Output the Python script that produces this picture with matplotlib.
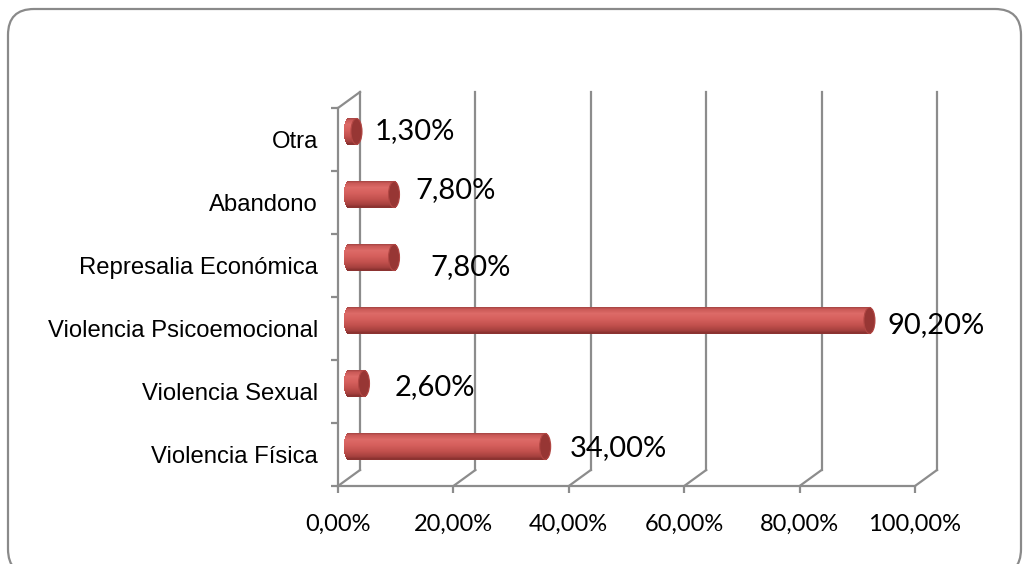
import matplotlib
matplotlib.use("Agg")
import matplotlib.pyplot as plt
import numpy as np
from matplotlib.patches import Ellipse, FancyBboxPatch
from matplotlib.colors import to_rgb

# ---------------- data ----------------
categories = ["Violencia Física", "Violencia Sexual", "Violencia Psicoemocional",
              "Represalia Económica", "Abandono", "Otra"]
values = [34.0, 2.6, 90.2, 7.8, 7.8, 1.3]
value_labels = ["34,00%", "2,60%", "90,20%", "7,80%", "7,80%", "1,30%"]
xticks = [0, 20, 40, 60, 80, 100]
xtick_labels = ["0,00%", "20,00%", "40,00%", "60,00%", "80,00%", "100,00%"]

# label offsets (pixels) from bar end: (dx right, dy up)
label_offsets = [(25, -1.5), (31, -3.5), (18.5, -4.5), (36, -9.5), (21, 4.5), (18.5, 0)]

W, H, DPI = 1023, 564, 100
fig = plt.figure(figsize=(W / DPI, H / DPI), dpi=DPI)

# background axes in pixel coordinates for the rounded frame
bg = fig.add_axes([0, 0, 1, 1], zorder=-1)
bg.set_xlim(0, W)
bg.set_ylim(H, 0)
bg.axis("off")
bg.add_patch(FancyBboxPatch((8, 9), 1021 - 8, 575 - 9,
                            boxstyle="round,pad=0,rounding_size=26",
                            facecolor="white", edgecolor="#8a8a8a", linewidth=1.6))

# front plane of plot area
x0, x1 = 338, 915
ytop, ybot = 108, 486
ax = fig.add_axes([x0 / W, 1 - ybot / H, (x1 - x0) / W, (ybot - ytop) / H])
ax.set_xlim(0, 100)
ax.set_ylim(-0.5, 5.5)
ax.patch.set_visible(False)

pxx = (x1 - x0) / 100.0          # px per x unit
pxy = (ybot - ytop) / 6.0        # px per category
DXp, DYp = 22, 16                # depth offset in px
DX, DY = DXp / pxx, DYp / pxy

gcol = "#8c8c8c"
glw = 1.6

# back wall gridlines + floor diagonals
for v in xticks:
    ax.plot([v + DX, v + DX], [-0.5 + DY, 5.5 + DY], color=gcol, lw=glw, clip_on=False, zorder=1)
    ax.plot([v, v + DX], [-0.5, -0.5 + DY], color=gcol, lw=glw, clip_on=False, zorder=1)
# left wall top diagonal
ax.plot([0, DX], [5.5, 5.5 + DY], color=gcol, lw=glw, clip_on=False, zorder=1)

# spines (front axes)
for s in ["top", "right"]:
    ax.spines[s].set_visible(False)
for s in ["bottom", "left"]:
    ax.spines[s].set_color(gcol)
    ax.spines[s].set_linewidth(glw)

ax.set_xticks(xticks)
ax.set_xticklabels(xtick_labels, fontfamily="Lato", fontsize=17)
ax.tick_params(axis="x", length=5, width=glw, color=gcol, pad=15)
ax.set_yticks(np.arange(-0.5, 6.0, 1.0))
ax.set_yticklabels([])
ax.tick_params(axis="y", which="major", length=5, width=glw, color=gcol)
ax.set_yticks(np.arange(len(categories)), minor=True)
ax.set_yticklabels(categories, minor=True, fontfamily="Liberation Sans", fontsize=17.2)
ax.tick_params(axis="y", which="minor", length=0, pad=14.5)

# bars: cylinders at half depth
hx, hy = DX / 2, DY / 2
bar_h = 26 / pxy
cap_a = 5.5 / pxx   # semi-axis of end ellipse in x units

prof_pos = [0.0, 0.08, 0.25, 0.45, 0.7, 0.9, 1.0]
prof_col = ["#a24341", "#c95856", "#dc6a67", "#d6605d", "#c2504d", "#a5403e", "#86302e"]
prof_rgb = np.array([to_rgb(c) for c in prof_col])

N = 26
for i, v in enumerate(values):
    yc = i + hy
    for k in range(N):
        fm = (k + 0.5) / N
        t = 1 - 2 * fm          # +1 top, -1 bottom
        col = [np.interp(fm, prof_pos, prof_rgb[:, c]) for c in range(3)]
        ext = cap_a * np.sqrt(max(0.0, 1 - t * t))
        ystripe = yc + bar_h / 2 - fm * bar_h
        ax.barh(ystripe, v + 2 * ext, left=hx - ext,
                height=bar_h / N * 1.05, color=col, linewidth=0, zorder=3)
    cap = Ellipse((v + hx, yc), 2 * cap_a, bar_h, facecolor="#973634",
                  edgecolor="#b24744", linewidth=0.8, zorder=4)
    ax.add_patch(cap)

# data labels
for i, (v, lab, off) in enumerate(zip(values, value_labels, label_offsets)):
    ax.annotate(lab, xy=(v + hx, i + hy), xytext=(off[0] * 72 / DPI, off[1] * 72 / DPI),
                textcoords="offset points", ha="left", va="center",
                fontfamily="Lato", fontsize=21, color="black", zorder=6,
                annotation_clip=False)

fig.savefig("out.png", dpi=DPI)
